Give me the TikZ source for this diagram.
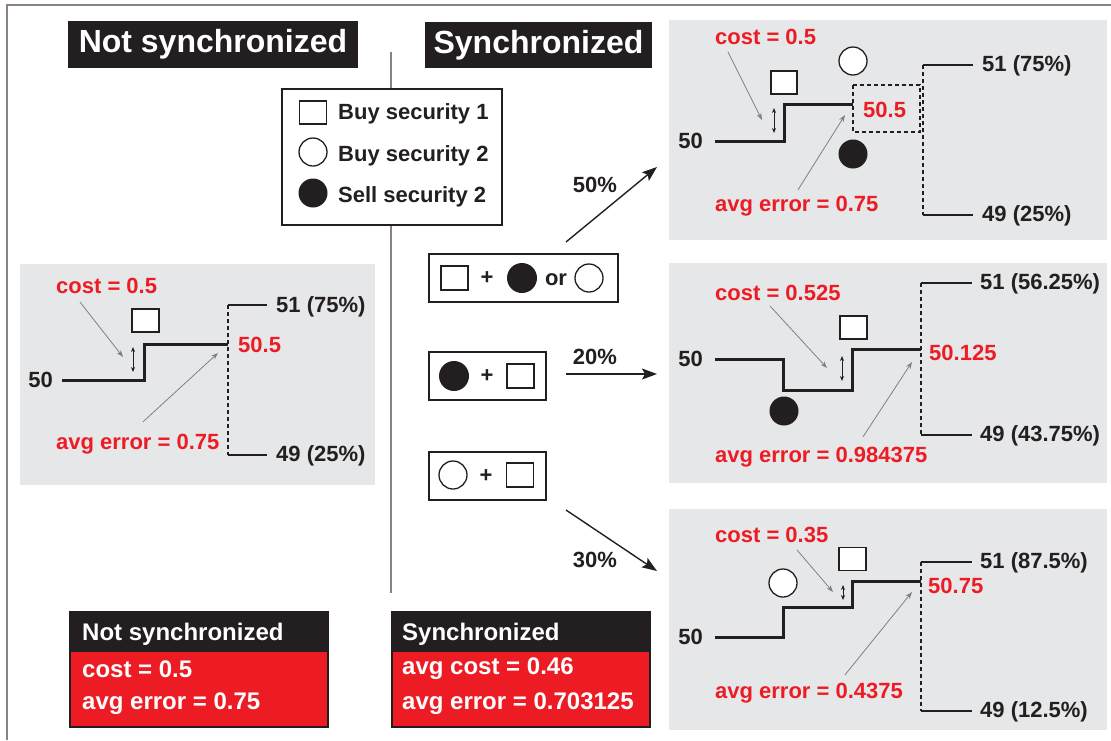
\documentclass[tikz,border=0pt]{standalone}
\usepackage{fontspec}
\setmainfont{Liberation Sans}
\usetikzlibrary{arrows.meta}
\definecolor{panelgray}{HTML}{E6E7E8}
\definecolor{sigred}{HTML}{ED1C24}
\definecolor{inkblack}{HTML}{231F20}
\definecolor{framegray}{HTML}{8B8182}
\tikzset{
  txt/.style={font=\bfseries\fontsize{22}{26}\selectfont, inner sep=0pt, text=inkblack},
  lbl/.style={txt, anchor=west},
  redlbl/.style={txt, anchor=west, text=sigred},
  start/.style={txt, anchor=east},
  title/.style={fill=inkblack, text=white, inner sep=0pt, font=\bfseries\fontsize{32}{36}\selectfont},
  sumtxt/.style={anchor=west, inner sep=0pt, text=white, font=\bfseries\fontsize{24}{28}\selectfont},
  panel/.style={fill=panelgray},
  buysq/.style={draw=inkblack, fill=white, line width=1.3pt, minimum width=27pt, minimum height=23pt, inner sep=0pt},
  buycirc/.style={draw=inkblack, fill=white, circle, line width=1.3pt, minimum size=28pt, inner sep=0pt},
  sellcirc/.style={fill=inkblack, circle, minimum size=29pt, inner sep=0pt},
  optbox/.style={draw=inkblack, fill=white, line width=2.6pt, inner sep=0pt},
  stepline/.style={inkblack, line width=3pt},
  branch/.style={inkblack, line width=2.6pt},
  dashline/.style={inkblack, line width=1.2pt, dash pattern=on 4pt off 3pt},
  pointer/.style={gray, line width=0.8pt, -{Stealth[length=7pt,width=5pt]}},
  gap/.style={inkblack, line width=0.9pt, {Stealth[length=5pt,width=4pt]}-{Stealth[length=5pt,width=4pt]}},
  bigarrow/.style={inkblack, line width=1.4pt, -{Stealth[length=15pt,width=11pt,inset=3pt]}}
}
\begin{document}
\begin{tikzpicture}[x=1pt, y=-1pt]
  \useasboundingbox (0,0) rectangle (1111,740);
  \draw[framegray, line width=2pt] (7,740) -- (7,5) -- (1111,5);
  \draw[framegray, line width=1.2pt] (391,52) -- (391,593);

  \node[title, minimum width=290pt, minimum height=47pt] (nosync) at (213,44.5) {Not synchronized};
  \node[title, minimum width=227pt, minimum height=46pt] (sync) at (538.5,45) {Synchronized};

  % legend
  \node[optbox, line width=2.7pt, minimum width=220pt, minimum height=136pt] (legend) at (392,157) {};
  \node[buysq] (lsq) at (313,112.5) {};
  \node[buycirc] (lbuy) at (313,152) {};
  \node[sellcirc] (lsell) at (313,193) {};
  \node[lbl] (lsqt) at (338,114) {Buy security 1};
  \node[lbl] (lbuyt) at (338,156) {Buy security 2};
  \node[lbl] (lsellt) at (338,197) {Sell security 2};

  % order options
  \node[optbox, minimum width=189pt, minimum height=48pt] (optA) at (523.5,278) {};
  \node[buysq, minimum height=24pt] (aSq) at (454.5,278) {};
  \node[txt] (aPlus) at (487,278) {+};
  \node[sellcirc, minimum size=30pt] (aSell) at (522,278) {};
  \node[txt] (aOr) at (556,280) {or};
  \node[buycirc] (aBuy) at (589,278) {};

  \node[optbox, minimum width=117pt, minimum height=48pt] (optB) at (487.5,376) {};
  \node[sellcirc, minimum size=30pt] (bSell) at (454,376) {};
  \node[txt] (bPlus) at (487,376) {+};
  \node[buysq, minimum height=24pt] (bSq) at (520.5,376) {};

  \node[optbox, minimum width=117pt, minimum height=48pt] (optC) at (487.5,476) {};
  \node[buycirc] (cBuy) at (453,475) {};
  \node[txt] (cPlus) at (486,476) {+};
  \node[buysq, minimum height=24pt] (cSq) at (520,475) {};

  \coordinate (a50s) at (566,242);
  \coordinate (a50e) at (657,167);
  \coordinate (a20s) at (566,374);
  \coordinate (a20e) at (657,374);
  \coordinate (a30s) at (566,510);
  \coordinate (a30e) at (657,571);
  \draw[bigarrow] (a50s) -- (a50e);
  \draw[bigarrow] (a20s) -- (a20e);
  \draw[bigarrow] (a30s) -- (a30e);
  \node[txt] (p50) at (595,185) {50\%};
  \node[txt] (p20) at (595,357) {20\%};
  \node[txt] (p30) at (595,560) {30\%};

  % not synchronized panel
  \fill[panel] (20,264) rectangle (375,485);
  \node[redlbl] (lcost) at (56,286) {cost = 0.5};
  \node[buysq] (lpsq) at (145.5,320.5) {};
  \draw[stepline] (62,380) -- (144,380) -- (144,344) -- (228,344);
  \draw[gap] (133,347) -- (133,372);
  \draw[dashline] (228,305) -- (228,455);
  \draw[branch] (228,305) -- (267,305);
  \draw[branch] (228,455) -- (267,455);
  \node[start] (l50) at (53,380) {50};
  \node[lbl] (lup) at (276,307) {51 (75\%)};
  \node[lbl] (ldown) at (276,456) {49 (25\%)};
  \node[redlbl] (lmid) at (238,345) {50.5};
  \node[redlbl] (lerr) at (56,444) {avg error = 0.75};
  \draw[pointer] ([xshift=24pt,yshift=-8pt]lcost.south west) -- (123,357);
  \draw[pointer] ([xshift=87pt,yshift=12pt]lerr.north west) -- (218,353);

  % 50% panel
  \fill[panel] (669,20) rectangle (1107,240);
  \node[redlbl] (acost) at (715,37) {cost = 0.5};
  \node[buycirc] (abuy) at (853,61) {};
  \node[buysq, minimum width=26pt] (asq) at (784,82.5) {};
  \draw[stepline] (715,141) -- (784,141) -- (784,104) -- (853,104);
  \draw[dashline] (853,85) rectangle (920,132);
  \node[sellcirc] (asell) at (853,154) {};
  \draw[gap] (774,108) -- (774,133);
  \draw[dashline] (923,65) -- (923,215);
  \draw[branch] (923,65) -- (973,65);
  \draw[branch] (923,215) -- (973,215);
  \node[start] (a50) at (703,141) {50};
  \node[lbl] (aup) at (982,66) {51 (75\%)};
  \node[lbl] (adown) at (982,216) {49 (25\%)};
  \node[redlbl] (amid) at (863,110) {50.5};
  \node[redlbl] (aerr) at (715,206) {avg error = 0.75};
  \draw[pointer] ([xshift=13pt,yshift=-7pt]acost.south west) -- (762,120);
  \draw[pointer] ([xshift=83pt,yshift=6pt]aerr.north west) -- (845,115);

  % 20% panel
  \fill[panel] (669,263) rectangle (1107,483);
  \node[redlbl] (bcost) at (715,293) {cost = 0.525};
  \node[buysq] (bsq) at (853.5,327.5) {};
  \draw[stepline] (715,359) -- (783,359) -- (783,390) -- (852,390) -- (852,349) -- (921,349);
  \draw[gap] (842,356) -- (842,381);
  \node[sellcirc] (bsell) at (784,411) {};
  \draw[dashline] (921,283) -- (921,435);
  \draw[branch] (921,283) -- (972,283);
  \draw[branch] (921,435) -- (972,435);
  \node[start] (b50) at (703,359) {50};
  \node[lbl] (bup) at (980,284) {51 (56.25\%)};
  \node[lbl] (bdown) at (980,436) {49 (43.75\%)};
  \node[redlbl] (bmid) at (929,353) {50.125};
  \node[redlbl] (berr) at (715,457) {avg error = 0.984375};
  \draw[pointer] ([xshift=55pt,yshift=-5pt]bcost.south west) -- (827,368);
  \draw[pointer] ([xshift=148pt,yshift=10pt]berr.north west) -- (912,362);

  % 30% panel
  \fill[panel] (669,509) rectangle (1107,730);
  \node[redlbl] (ccost) at (715,535) {cost = 0.35};
  \node[buycirc] (cbuy) at (783,583) {};
  \node[buysq] (csq) at (852.5,559) {};
  \draw[stepline] (715,637) -- (783,637) -- (783,607) -- (852,607) -- (852,581) -- (921,581);
  \draw[gap] (843,585) -- (843,600);
  \draw[dashline] (921,562) -- (921,711);
  \draw[branch] (921,562) -- (972,562);
  \draw[branch] (921,711) -- (972,711);
  \node[start] (c50) at (703,637) {50};
  \node[lbl] (cup) at (980,563) {51 (87.5\%)};
  \node[lbl] (cdown) at (980,712) {49 (12.5\%)};
  \node[redlbl] (cmid) at (928,586) {50.75};
  \node[redlbl] (cerr) at (715,693) {avg error = 0.4375};
  \draw[pointer] ([xshift=82pt,yshift=-7pt]ccost.south west) -- (833,592);
  \draw[pointer] ([xshift=130pt,yshift=8pt]cerr.north west) -- (912,592);

  % summaries
  \fill[inkblack] (70,612) rectangle (328,652);
  \fill[sigred] (70,652) rectangle (328,727);
  \draw[inkblack, line width=2.5pt] (70,612) rectangle (328,727);
  \node[sumtxt] (s1h) at (82,634) {Not synchronized};
  \node[sumtxt] (s1c) at (82,669) {cost = 0.5};
  \node[sumtxt] (s1e) at (82,704) {avg error = 0.75};

  \fill[inkblack] (392,612) rectangle (650,652);
  \fill[sigred] (392,652) rectangle (650,727);
  \draw[inkblack, line width=2.5pt] (392,612) rectangle (650,727);
  \node[sumtxt] (s2h) at (402,634) {Synchronized};
  \node[sumtxt] (s2c) at (402,669) {avg cost = 0.46};
  \node[sumtxt] (s2e) at (402,704) {avg error = 0.703125};
\end{tikzpicture}
\end{document}
